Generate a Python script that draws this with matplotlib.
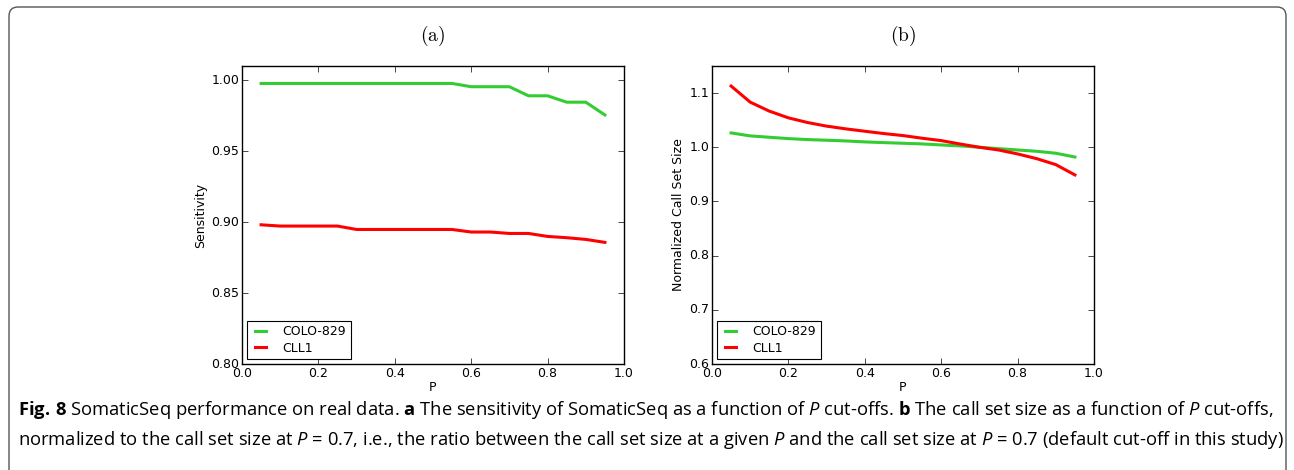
import matplotlib
matplotlib.use('Agg')
import matplotlib.pyplot as plt
from matplotlib.patches import FancyBboxPatch

plt.style.use('classic')
plt.rcParams['font.family'] = 'DejaVu Sans'
plt.rcParams['mathtext.fontset'] = 'custom'
plt.rcParams['mathtext.rm'] = 'Open Sans'
plt.rcParams['mathtext.it'] = 'Open Sans:italic'
plt.rcParams['mathtext.bf'] = 'Open Sans:bold'

# cut-off values
p = [0.05, 0.10, 0.15, 0.20, 0.25, 0.30, 0.35, 0.40, 0.45, 0.50,
     0.55, 0.60, 0.65, 0.70, 0.75, 0.80, 0.85, 0.90, 0.95]

# (a) sensitivity
sens_colo = [0.9977, 0.9977, 0.9977, 0.9977, 0.9977, 0.9977, 0.9977, 0.9977, 0.9977, 0.9977,
             0.9977, 0.9954, 0.9954, 0.9954, 0.9890, 0.9890, 0.9845, 0.9845, 0.9755]
sens_cll = [0.8981, 0.8972, 0.8972, 0.8972, 0.8972, 0.8948, 0.8948, 0.8948, 0.8948, 0.8948,
            0.8948, 0.8930, 0.8930, 0.8920, 0.8920, 0.8899, 0.8890, 0.8878, 0.8857]

# (b) normalized call set size
size_colo = [1.0265, 1.0210, 1.0185, 1.0160, 1.0142, 1.0130, 1.0117, 1.0099, 1.0086, 1.0074,
             1.0062, 1.0043, 1.0025, 1.0000, 0.9975, 0.9950, 0.9926, 0.9890, 0.9820]
size_cll = [1.1130, 1.0833, 1.0667, 1.0543, 1.0457, 1.0390, 1.0340, 1.0296, 1.0253, 1.0216,
            1.0167, 1.0123, 1.0060, 1.0000, 0.9950, 0.9877, 0.9790, 0.9680, 0.9490]

green = '#33cc33'
red = '#ff0000'

fig = plt.figure(figsize=(12.94, 4.70), dpi=100)
fig.patch.set_facecolor('white')

# background axes in pixel units, for the rounded frame
bg = fig.add_axes([0, 0, 1, 1])
bg.set_xlim(0, 1294)
bg.set_ylim(470, 0)
bg.axis('off')
bg.add_patch(FancyBboxPatch((9, 7), 1277, 500,
                            boxstyle='round,pad=0,rounding_size=9',
                            fill=False, edgecolor='#555555', linewidth=1.0))

ax1 = fig.add_axes([242 / 1294, 106 / 470, 382 / 1294, 298 / 470])
ax2 = fig.add_axes([712 / 1294, 106 / 470, 382 / 1294, 298 / 470])

panels = [
    (ax1, sens_colo, sens_cll, (0.80, 1.01), [0.80, 0.85, 0.90, 0.95, 1.00], '%.2f',
     'Sensitivity', '(a)'),
    (ax2, size_colo, size_cll, (0.6, 1.15), [0.6, 0.7, 0.8, 0.9, 1.0, 1.1], '%.1f',
     'Normalized Call Set Size', '(b)'),
]

for ax, colo, cll, ylim, yt, fmt, ylab, title in panels:
    ax.plot(p, colo, color=green, linewidth=2.2, label='COLO-829')
    ax.plot(p, cll, color=red, linewidth=2.2, label='CLL1')
    ax.set_xlim(0.0, 1.0)
    ax.set_ylim(*ylim)
    ax.set_xticks([0.0, 0.2, 0.4, 0.6, 0.8, 1.0])
    ax.set_xticklabels(['0.0', '0.2', '0.4', '0.6', '0.8', '1.0'])
    ax.set_yticks(yt)
    ax.set_yticklabels([fmt % v for v in yt])
    ax.tick_params(labelsize=9, direction='in', length=4, pad=2)
    ax.set_xlabel('P', fontsize=9, labelpad=1)
    ax.set_ylabel(ylab, fontsize=9, labelpad=3)
    ax.set_title('$\\mathrm{' + title + '}$', fontsize=14, pad=18,
                 math_fontfamily='cm')
    leg = ax.legend(loc='lower left', fontsize=9, frameon=True, fancybox=False,
                    handlelength=1.5, borderaxespad=0.4, borderpad=0.35,
                    handletextpad=1.0, labelspacing=0.3)
    leg.get_frame().set_edgecolor('black')
    leg.get_frame().set_linewidth(0.8)

cap_size = 13.2
fig.text(18 / 1294, 1 - 410 / 470,
         '$\\mathbf{Fig.\\,8}$ SomaticSeq performance on real data. $\\mathbf{a}$ The sensitivity of '
         'SomaticSeq as a function of $\\mathit{P}$ cut-offs. $\\mathbf{b}$ The call set size as a '
         'function of $\\mathit{P}$ cut-offs,',
         fontsize=cap_size, family='Open Sans', va='center', ha='left')
fig.text(18 / 1294, 1 - 440 / 470,
         'normalized to the call set size at $\\mathit{P}$ = 0.7, i.e., the ratio between '
         'the call set size at a given $\\mathit{P}$ and the call set size at '
         '$\\mathit{P}$ = 0.7 (default cut-off in this study)',
         fontsize=cap_size, family='Open Sans', va='center', ha='left')

fig.savefig('out.png', dpi=100, facecolor='white')
